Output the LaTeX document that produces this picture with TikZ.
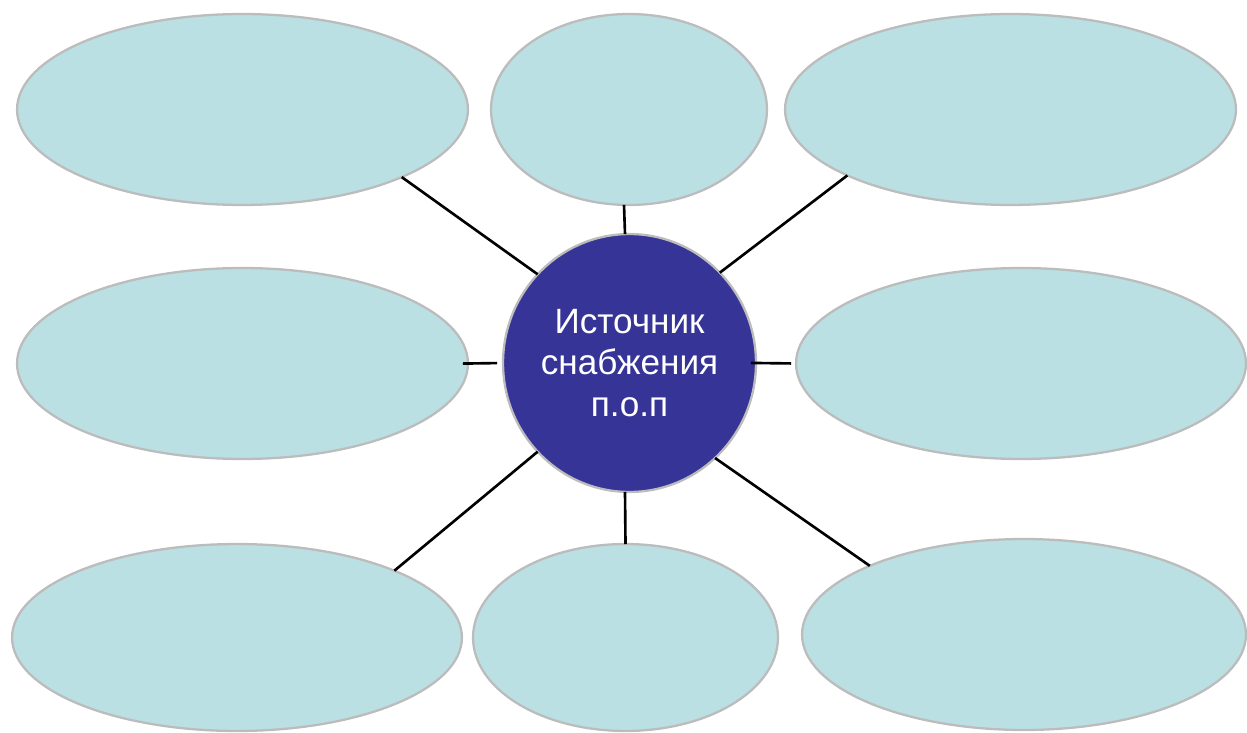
\documentclass[tikz,border=0pt]{standalone}
\usepackage{fontspec}
\setmainfont{Liberation Sans}
\usetikzlibrary{shapes.geometric}
\definecolor{ellfill}{RGB}{186,224,227}
\definecolor{ellborder}{RGB}{188,188,188}
\definecolor{hubfill}{RGB}{54,52,150}
\tikzset{
  bubble/.style={ellipse, draw=ellborder, fill=ellfill, line width=1.3pt, inner sep=0pt, outer sep=0pt},
  hub/.style={ellipse, draw=ellborder, fill=hubfill, line width=1.3pt, inner sep=0pt, outer sep=0pt,
    minimum width=5.06cm, minimum height=5.16cm, text=white, align=center,
    font=\fontsize{20}{23.8}\selectfont},
  link/.style={draw=black, line width=1.5pt}
}
\begin{document}
\begin{tikzpicture}[x=0.02cm,y=-0.02cm]
\useasboundingbox (0,0) rectangle (1247,733);
\node[bubble, minimum width=9.02cm, minimum height=3.82cm] (tl) at (242.5,109.5) {};
\node[bubble, minimum width=5.52cm, minimum height=3.82cm] (tm) at (629,109.5) {};
\node[bubble, minimum width=9.02cm, minimum height=3.82cm] (tr) at (1010.5,109.5) {};
\node[bubble, minimum width=9.02cm, minimum height=3.82cm] (ml) at (242.5,363.5) {};
\node[bubble, minimum width=9.0cm, minimum height=3.82cm] (mr) at (1021,363.5) {};
\node[bubble, minimum width=9.0cm, minimum height=3.74cm] (bl) at (237,637.5) {};
\node[bubble, minimum width=6.1cm, minimum height=3.74cm] (bm) at (625.5,637.5) {};
\node[bubble, minimum width=8.88cm, minimum height=3.82cm] (br) at (1024,634.5) {};
\node[hub] (c) at (629.5,363) {Источник\\снабжения\\п.о.п};
\draw[link] (tl.-23.5) -- (c.136.1);
\draw[link] (tm.267) -- (c.92.4);
\draw[link] (tr.202.9) -- (c.45.5);
\draw[link, shorten <=-0.1cm, shorten >=0.12cm] (ml.east) -- (c.west);
\draw[link, shorten <=-0.1cm, shorten >=0.1cm] (c.east) -- (mr.west);
\draw[link] (bl.23.1) -- (c.224.2);
\draw[link] (bm.90) -- (c.268);
\draw[link] (br.156.3) -- (c.312.6);
\end{tikzpicture}
\end{document}
